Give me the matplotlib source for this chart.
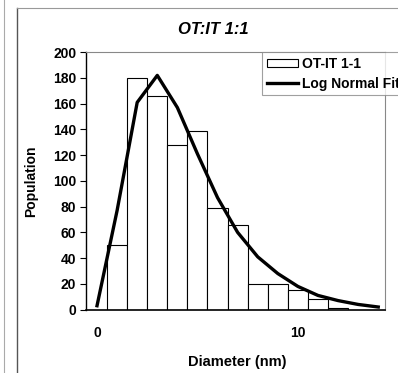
import matplotlib
matplotlib.use("Agg")
import matplotlib.pyplot as plt
from matplotlib.lines import Line2D

plt.rcParams['font.family'] = ['Liberation Sans', 'DejaVu Sans']
plt.rcParams['font.weight'] = 'bold'

# histogram of particle diameters
bin_centers = [1, 2, 3, 4, 5, 6, 7, 8, 9, 10, 11, 12]
counts = [50, 180, 166, 128, 139, 79, 66, 20, 20, 15, 8, 1]

# log normal fit curve
fit_x = [0, 1, 2, 3, 4, 5, 6, 7, 8, 9, 10, 11, 12, 13, 14]
fit_y = [3, 77, 161, 182, 157, 121, 87, 60, 41, 28, 18, 11, 7, 4, 2]

yticks = [0, 20, 40, 60, 80, 100, 120, 140, 160, 180, 200]
xticks = [0, 10]

fig = plt.figure(figsize=(3.98, 3.73), dpi=100)
ax = fig.add_axes([0.216, 0.170, 0.751, 0.690])

bars = ax.bar(bin_centers, counts, width=1.0, color='white', edgecolor='black',
              linewidth=0.8, label='OT-IT 1-1')
line, = ax.plot(fit_x, fit_y, color='black', linewidth=2.4, label='Log Normal Fit')

ax.set_xlim(-0.55, 14.33)
ax.set_ylim(0, 200)
ax.set_yticks(yticks)
ax.set_xticks(xticks)
ax.tick_params(axis='y', direction='out', length=4, width=0.8, labelsize=10, pad=3)
ax.tick_params(axis='x', length=0, labelsize=10, pad=12)
for lbl in ax.get_xticklabels() + ax.get_yticklabels():
    lbl.set_fontweight('bold')

for side in ['top', 'right']:
    ax.spines[side].set_color('#888888')
    ax.spines[side].set_linewidth(0.8)
ax.spines['left'].set_linewidth(1.0)
ax.spines['bottom'].set_linewidth(1.2)

ax.set_xlabel('Diameter (nm)', fontsize=10.5, fontweight='bold')
ax.xaxis.set_label_coords(0.505, -0.177)
ax.set_ylabel('Population', fontsize=10, fontweight='bold')
ax.yaxis.set_label_coords(-0.16, 0.5)
fig.text(213 / 398, 1 - 30 / 373, 'OT:IT 1:1', fontsize=12, fontweight='bold',
         style='italic', ha='center', va='center')

# legend runs past the right edge, as in the cropped original
leg = ax.legend([bars, line], ['OT-IT 1-1', 'Log Normal Fit'], loc='upper left',
                bbox_to_anchor=(0.59, 1.0), frameon=True,
                fancybox=False, edgecolor='#888888', fontsize=10,
                handlelength=2.2, handleheight=0.5, handletextpad=0.3,
                borderpad=0.35, labelspacing=0.4, borderaxespad=0.0)
leg.get_frame().set_linewidth(0.8)
for t in leg.get_texts():
    t.set_fontweight('bold')

# outer chart frame from the scanned page
fig.add_artist(Line2D([17 / 398, 17 / 398], [0, 1 - 8 / 373], color='#555555', lw=1.0))
fig.add_artist(Line2D([17 / 398, 1], [1 - 8 / 373, 1 - 8 / 373], color='#999999', lw=0.8))
fig.add_artist(Line2D([4 / 398, 4 / 398], [0, 1], color='#aaaaaa', lw=0.8))

fig.savefig('out.png', dpi=100)
